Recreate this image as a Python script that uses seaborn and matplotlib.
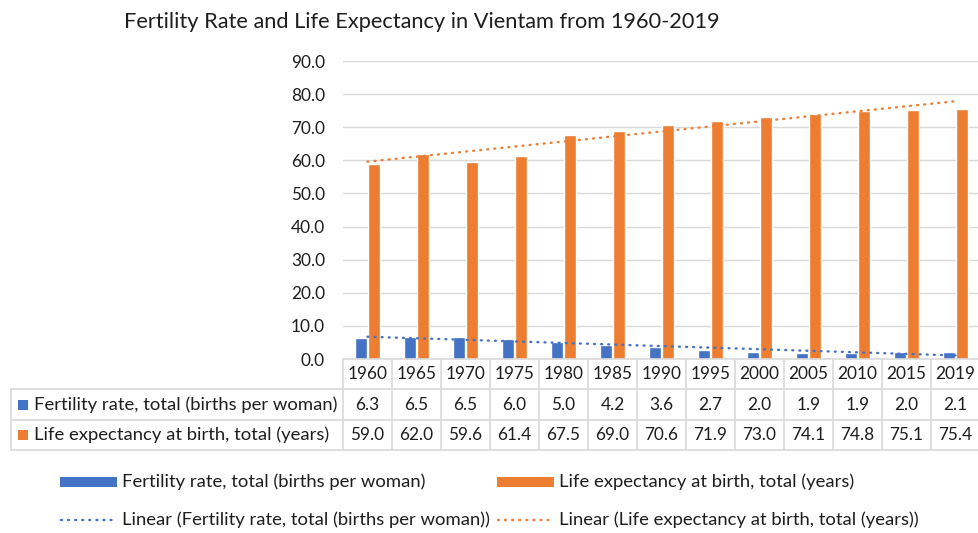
import numpy as np
import pandas as pd
import matplotlib
matplotlib.use("Agg")
import matplotlib.pyplot as plt
import seaborn as sns
from matplotlib.transforms import blended_transform_factory
from matplotlib.patches import Rectangle
from matplotlib.lines import Line2D
from matplotlib.ticker import FormatStrFormatter

# ---------------- data ----------------
years = ["1960", "1965", "1970", "1975", "1980", "1985", "1990",
         "1995", "2000", "2005", "2010", "2015", "2019"]
fertility = [6.3, 6.5, 6.5, 6.0, 5.0, 4.2, 3.6, 2.7, 2.0, 1.9, 1.9, 2.0, 2.1]
life = [59.0, 62.0, 59.6, 61.4, 67.5, 69.0, 70.6, 71.9, 73.0, 74.1, 74.8, 75.1, 75.4]
fert_label = "Fertility rate, total (births per woman)"
life_label = "Life expectancy at birth, total (years)"
title = "Fertility Rate and Life Expectancy in Vientam from 1960-2019"
yticks = [0, 10, 20, 30, 40, 50, 60, 70, 80, 90]

BLUE = "#4472C4"
ORANGE = "#ED7D31"
GRID = "#D9D9D9"
TXT = "#1e1e1e"
FS_NUM = 12.4
FS_TXT = 13.3

sns.set_theme(style="white")
plt.rcParams["font.family"] = ["Lato", "DejaVu Sans"]

W, H = 979, 533
fig = plt.figure(figsize=(W / 100, H / 100), dpi=100)
fig.patch.set_facecolor("white")


def fx(x):
    return x / W


def fy(y):
    return 1 - y / H


ax = fig.add_axes([fx(343), fy(359), 637 / W, (359 - 61) / H])

df = pd.DataFrame({
    "year": years * 2,
    "series": [fert_label] * len(years) + [life_label] * len(years),
    "value": fertility + life,
})
sns.barplot(data=df, x="year", y="value", hue="series",
            hue_order=[fert_label, life_label], palette=[BLUE, ORANGE],
            saturation=1, width=0.57, gap=0.14, ax=ax, legend=False,
            zorder=2)

xs = np.arange(len(years))
for vals, col in [(fertility, BLUE), (life, ORANGE)]:
    p = np.polyfit(xs, vals, 1)
    ax.plot(xs, np.polyval(p, xs), color=col, lw=1.7,
            linestyle=(0, (0.4, 2.6)), dash_capstyle="round", zorder=3)

ax.set_xlim(-0.5, len(years) - 0.5)
ax.set_ylim(0, 90)
ax.set_yticks(yticks)
ax.yaxis.set_major_formatter(FormatStrFormatter("%.1f"))
ax.set_xticks([])
ax.set_xlabel("")
ax.set_ylabel("")
ax.grid(axis="y", color=GRID, lw=1)
ax.set_axisbelow(True)
for s in ax.spines.values():
    s.set_visible(False)
ax.tick_params(axis="y", length=0, pad=13, labelsize=FS_NUM, labelcolor=TXT)

# ---------------- title ----------------
fig.text(fx(422), fy(22), title, ha="center", va="center",
         fontsize=15.7, color=TXT)

# ---------------- data table ----------------
trans = blended_transform_factory(ax.transData, fig.transFigure)
lkw = dict(color=GRID, lw=1.2)
fig.add_artist(Line2D([fx(343), 1], [fy(359), fy(359)],
                      transform=fig.transFigure, **lkw))
for yy in (389, 420, 450):
    fig.add_artist(Line2D([fx(11), 1], [fy(yy), fy(yy)],
                          transform=fig.transFigure, **lkw))
fig.add_artist(Line2D([fx(11), fx(11)], [fy(389), fy(450)],
                      transform=fig.transFigure, **lkw))
for k in range(len(years) + 1):
    e = k - 0.5
    fig.add_artist(Line2D([e, e], [fy(359), fy(450)], transform=trans, **lkw))

for i, yr in enumerate(years):
    ax.text(i, fy(374), yr, transform=trans, ha="center", va="center",
            fontsize=FS_NUM, color=TXT, clip_on=False)
    ax.text(i, fy(405), f"{fertility[i]:.1f}", transform=trans, ha="center",
            va="center", fontsize=FS_NUM, color=TXT, clip_on=False)
    ax.text(i, fy(435), f"{life[i]:.1f}", transform=trans, ha="center",
            va="center", fontsize=FS_NUM, color=TXT, clip_on=False)

for yc, col, lab in [(405, BLUE, fert_label), (435, ORANGE, life_label)]:
    fig.add_artist(Rectangle((fx(18), fy(yc + 5)), 10 / W, 10 / H,
                             transform=fig.transFigure, color=col, lw=0))
    fig.text(fx(34), fy(yc), lab, ha="left", va="center",
             fontsize=FS_TXT, color=TXT)

# ---------------- legend ----------------
for x0, col, lab in [(60, BLUE, fert_label), (497, ORANGE, life_label)]:
    fig.add_artist(Rectangle((fx(x0), fy(487)), 57 / W, 10 / H,
                             transform=fig.transFigure, color=col, lw=0))
    fig.text(fx(x0 + 62), fy(482), lab, ha="left", va="center",
             fontsize=FS_TXT, color=TXT)
    fig.add_artist(Line2D([fx(x0 + 1), fx(x0 + 56)], [fy(520), fy(520)],
                          transform=fig.transFigure, color=col, lw=1.7,
                          linestyle=(0, (0.4, 2.6)), dash_capstyle="round"))
    fig.text(fx(x0 + 62), fy(520), f"Linear ({lab})", ha="left",
             va="center", fontsize=FS_TXT, color=TXT)

fig.savefig("out.png", dpi=100, facecolor="white")
